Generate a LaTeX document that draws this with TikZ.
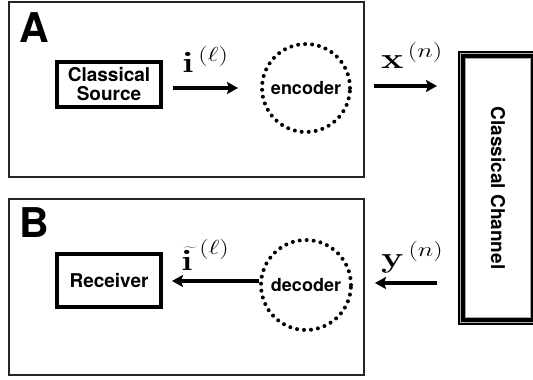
\RequirePackage{fix-cm}
\documentclass[tikz,border=0pt]{standalone}
\usepackage[no-math]{fontspec}
\usepackage{graphicx}
\newfontfamily\hv{TeX Gyre Heros}
\usetikzlibrary{arrows.meta}
\newcommand{\widesym}[1]{\scalebox{1.3}[1]{$#1$}}
\tikzset{
  panel/.style={draw=black!85, line width=2pt},
  blockbox/.style={draw=black, line width=4pt, fill=white, align=center,
    font=\hv\bfseries\fontsize{19}{21}\selectfont, inner sep=0pt},
  dotring/.style={circle, draw=black, line width=4pt, line cap=round,
    dash pattern=on 0pt off 7pt, inner sep=0pt,
    font=\hv\bfseries\fontsize{18}{20}\selectfont},
  flow/.style={line width=3.4pt, -{Stealth[length=11pt,width=12pt,inset=2pt]}},
  sym/.style={anchor=base west, inner sep=0pt, font=\fontsize{29}{31}\selectfont},
  tag/.style={anchor=base west, inner sep=0pt, font=\hv\bfseries\fontsize{41}{44}\selectfont}
}
\begin{document}
\begin{tikzpicture}[x=1pt,y=-1pt]
\useasboundingbox (0,0) rectangle (533,380);
\clip (0,0) rectangle (533,380);

% panels A and B
\draw[panel] (9,2) rectangle (364,177);
\draw[panel] (9,199) rectangle (364,375);
\node[tag] (tA) at (19,42) {A};
\node[tag] (tB) at (19,237) {B};

% blocks
\node[blockbox, minimum width=104pt, minimum height=45pt] (src) at (109,84.5) {Classical\\[-2pt]Source};
\node[blockbox, minimum width=104pt, minimum height=53pt] (rec) at (109,280.5) {Receiver};
\node[dotring, minimum size=88pt] (enc) at (306,88) {encoder};
\node[dotring, minimum size=90pt] (dec) at (306,285) {decoder};

% channel with framed border
\node[draw=black, line width=8pt, fill=white, minimum width=72pt, minimum height=266pt,
      inner sep=0pt] (chan) at (498,188) {};
\draw[gray!60, line width=0.7pt] (460.5,53.5) rectangle (535.5,322.5);
\draw[gray!70, line width=0.6pt] (465.5,58.5) rectangle (530.5,317.5);
\node[rotate=-90, font=\hv\bfseries\fontsize{19}{21}\selectfont] (chant) at (chan) {Classical Channel};

% signal flow
\draw[flow, shorten <=10pt, shorten >=22pt] (src.east |- enc.west) -- (enc.west);
\draw[flow, shorten <=22pt, shorten >=21pt] ([yshift=2pt]enc.east) -- ([yshift=2pt]enc.east -| chan.west);
\draw[flow, shorten <=21pt, shorten >=22pt] ([yshift=2pt]chan.west |- dec.east) -- ([yshift=2pt]dec.east);
\draw[flow, shorten >=9pt] ([yshift=4pt]dec.west) -- ([yshift=4pt]dec.west -| rec.east);

% symbols
\node[sym] (li) at (182,72) {\widesym{\mathbf{i}^{\,(\ell)}}};
\node[sym] (lx) at (381,68) {\widesym{\mathbf{x}^{\,(n)}}};
\node[sym] (ly) at (381,267) {\widesym{\mathbf{y}^{\,(n)}}};
\node[sym] (lt) at (181,270) {\widesym{\widetilde{\mathbf{i}\,}^{(\ell)}}};
\end{tikzpicture}
\end{document}
